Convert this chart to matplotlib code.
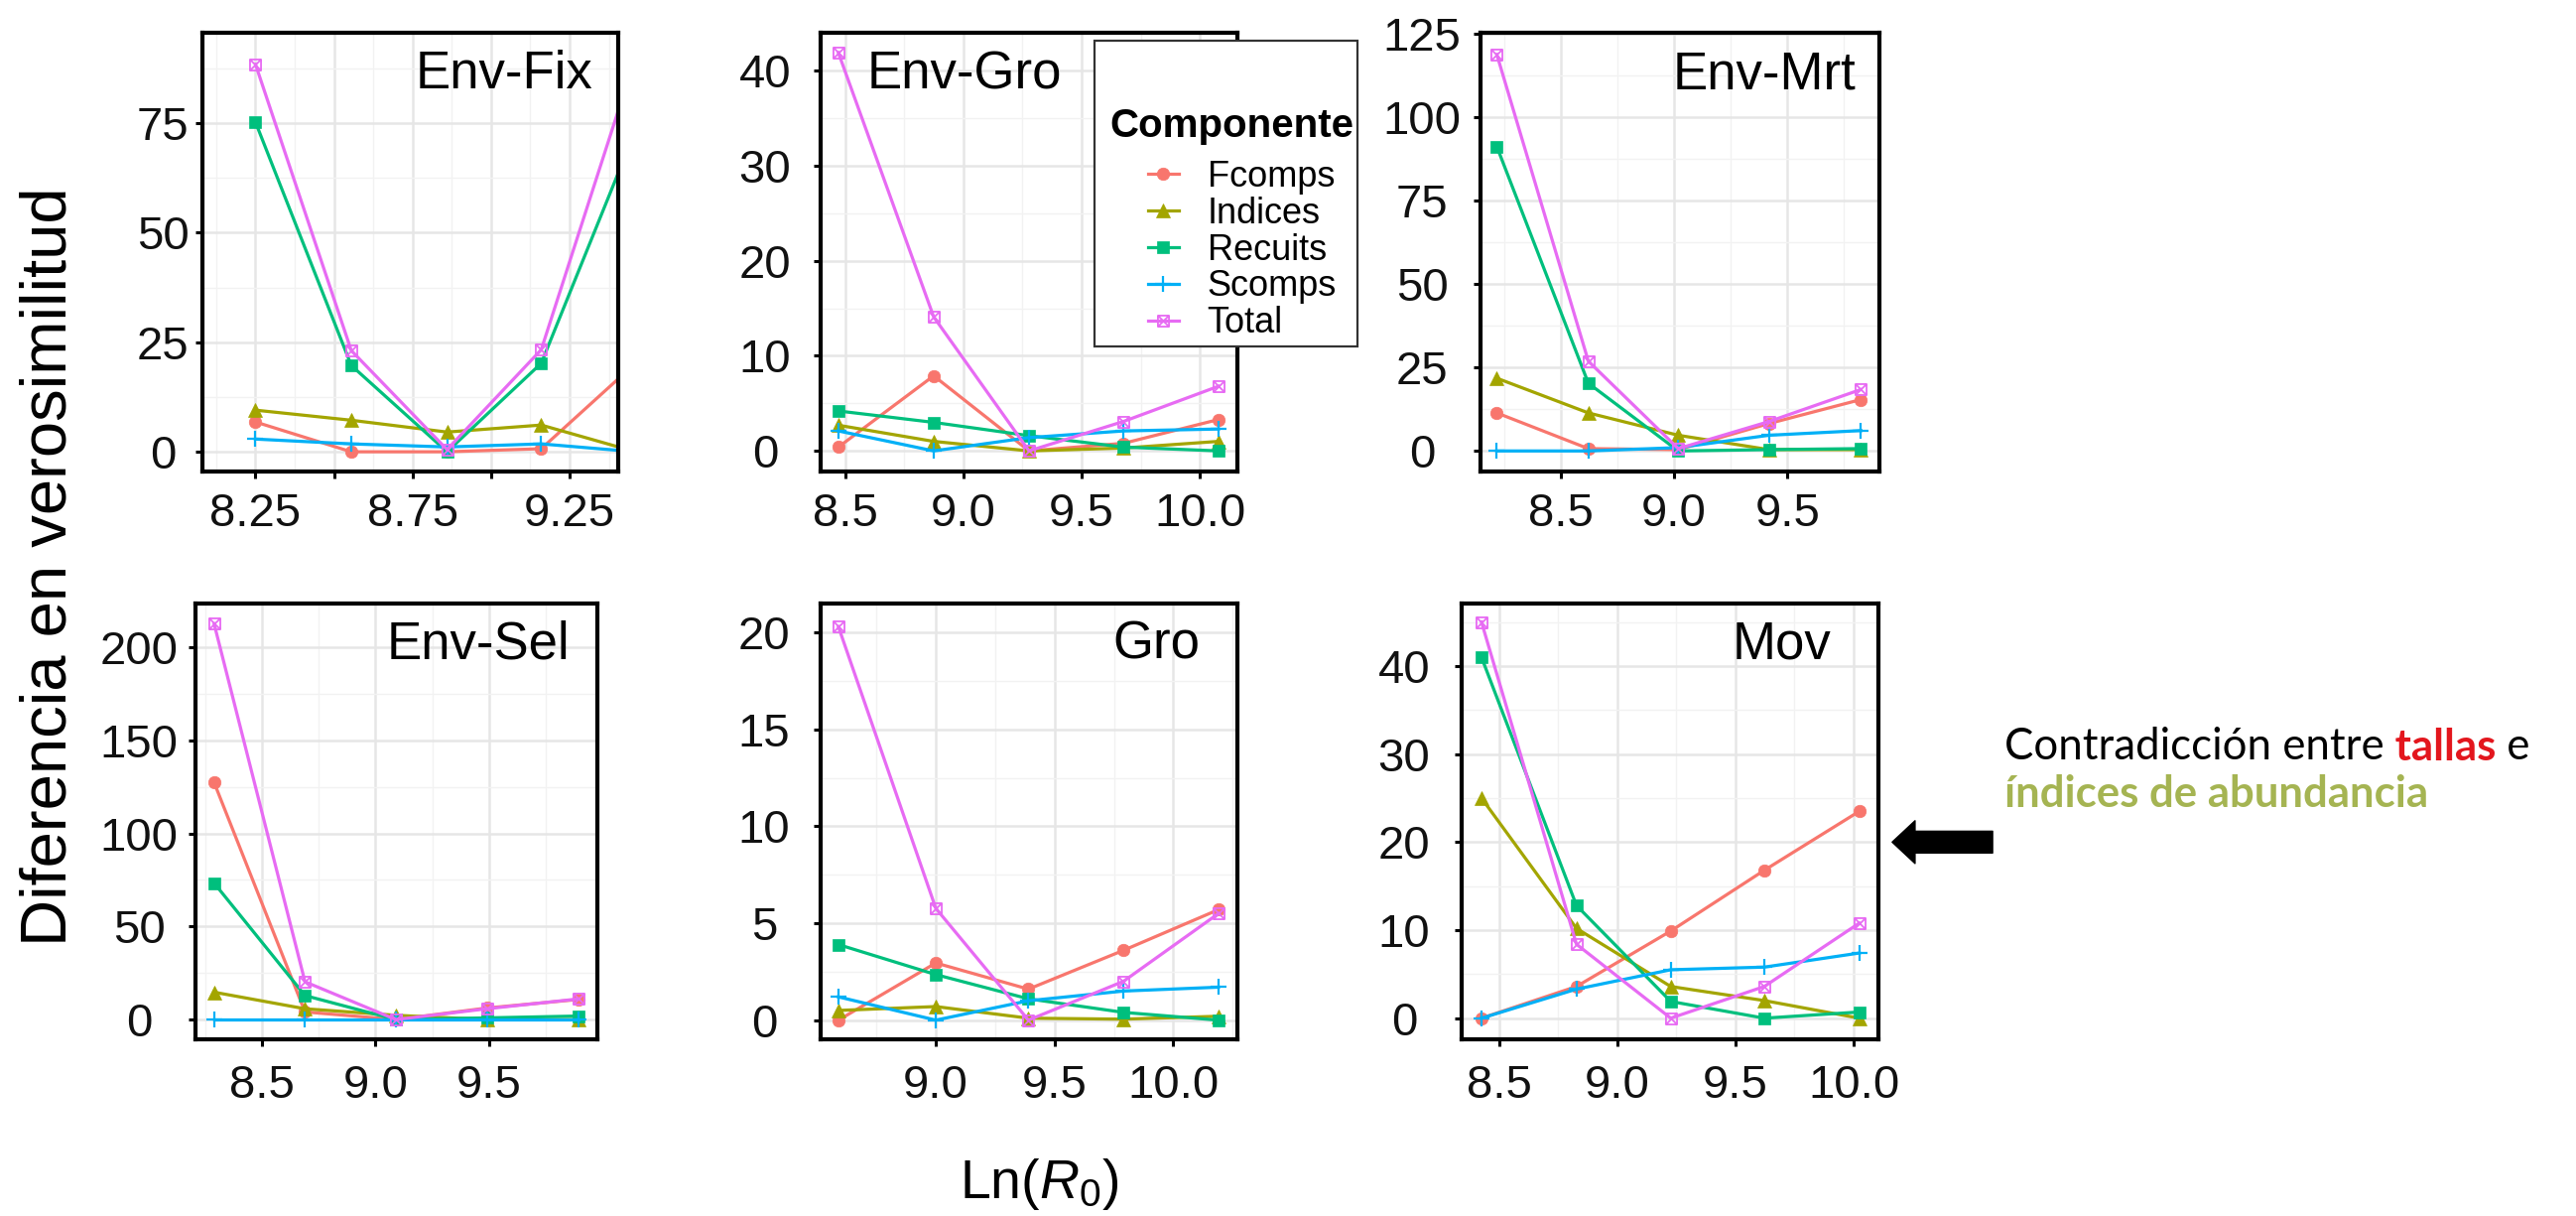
import numpy as np
import matplotlib
matplotlib.use("Agg")
import matplotlib.pyplot as plt
from matplotlib.path import Path
from matplotlib.patches import Rectangle
from matplotlib.ticker import AutoMinorLocator

# ──────────────────────────────────────────────────────────────
# DATA  (Ln(R0) grid and likelihood difference per component)
# ──────────────────────────────────────────────────────────────
COMPONENTS = ["Fcomps", "Indices", "Recuits", "Scomps", "Total"]

FIX_X = [8.25, 8.555, 8.86, 9.16, 9.46]
FIX_FCOMPS = [6.8, 0.0, 0.0, 0.7, 20.2]
FIX_INDICES = [9.5, 7.2, 4.5, 6.1, 0.0]
FIX_RECUITS = [75.2, 19.7, 0.0, 20.2, 73.3]
FIX_SCOMPS = [2.9, 1.8, 1.1, 1.8, 0.0]
FIX_TOTAL = [88.4, 23.1, 0.5, 23.3, 90.0]

EGRO_X = [8.472, 8.875, 9.278, 9.678, 10.079]
EGRO_FCOMPS = [0.4, 7.9, 0.0, 0.8, 3.3]
EGRO_INDICES = [2.7, 1.0, 0.0, 0.3, 1.0]
EGRO_RECUITS = [4.2, 3.0, 1.6, 0.4, 0.0]
EGRO_SCOMPS = [2.1, 0.0, 1.4, 2.1, 2.3]
EGRO_TOTAL = [41.9, 14.1, 0.0, 3.1, 6.8]

MRT_X = [8.217, 8.621, 9.018, 9.418, 9.824]
MRT_FCOMPS = [11.4, 0.7, 0.4, 8.2, 15.4]
MRT_INDICES = [21.8, 11.4, 4.7, 0.4, 0.4]
MRT_RECUITS = [91.2, 20.3, 0.0, 0.4, 0.7]
MRT_SCOMPS = [0.0, 0.0, 1.0, 4.7, 6.1]
MRT_TOTAL = [118.8, 26.9, 0.7, 8.8, 18.4]

SEL_X = [8.29, 8.69, 9.09, 9.49, 9.895]
SEL_FCOMPS = [127.3, 4.1, 0.0, 6.2, 10.8]
SEL_INDICES = [14.7, 5.8, 2.3, 0.0, 0.0]
SEL_RECUITS = [73.3, 12.9, 0.0, 0.9, 1.9]
SEL_SCOMPS = [0.0, 0.0, 0.0, 0.0, 0.0]
SEL_TOTAL = [212.5, 20.3, 0.0, 5.8, 11.1]

GRO_X = [8.59, 9.0, 9.39, 9.79, 10.19]
GRO_FCOMPS = [0.0, 2.95, 1.6, 3.6, 5.7]
GRO_INDICES = [0.5, 0.7, 0.1, 0.05, 0.2]
GRO_RECUITS = [3.9, 2.35, 1.1, 0.4, 0.0]
GRO_SCOMPS = [1.2, 0.0, 1.0, 1.5, 1.7]
GRO_TOTAL = [20.3, 5.77, 0.0, 2.0, 5.5]

MOV_X = [8.425, 8.827, 9.226, 9.622, 10.024]
MOV_FCOMPS = [0.0, 3.6, 9.9, 16.8, 23.5]
MOV_INDICES = [25.0, 10.2, 3.6, 2.0, 0.0]
MOV_RECUITS = [41.0, 12.8, 1.9, 0.0, 0.7]
MOV_SCOMPS = [0.0, 3.3, 5.5, 5.8, 7.4]
MOV_TOTAL = [45.0, 8.4, 0.0, 3.6, 10.8]

PANELS = [
    ("Env-Fix", FIX_X, [FIX_FCOMPS, FIX_INDICES, FIX_RECUITS, FIX_SCOMPS, FIX_TOTAL]),
    ("Env-Gro", EGRO_X, [EGRO_FCOMPS, EGRO_INDICES, EGRO_RECUITS, EGRO_SCOMPS, EGRO_TOTAL]),
    ("Env-Mrt", MRT_X, [MRT_FCOMPS, MRT_INDICES, MRT_RECUITS, MRT_SCOMPS, MRT_TOTAL]),
    ("Env-Sel", SEL_X, [SEL_FCOMPS, SEL_INDICES, SEL_RECUITS, SEL_SCOMPS, SEL_TOTAL]),
    ("Gro", GRO_X, [GRO_FCOMPS, GRO_INDICES, GRO_RECUITS, GRO_SCOMPS, GRO_TOTAL]),
    ("Mov", MOV_X, [MOV_FCOMPS, MOV_INDICES, MOV_RECUITS, MOV_SCOMPS, MOV_TOTAL]),
]

# ──────────────────────────────────────────────────────────────
# LAYOUT  (pixel boxes on the 2596x1225 canvas, axis ranges)
# ──────────────────────────────────────────────────────────────
W, H, DPI = 2596, 1225, 100
PT = DPI / 72.0

LAYOUT = {
    "Env-Fix": dict(box=(204, 33, 623, 475), xlim=(8.081, 9.405), ylim=(-4.5, 95.6),
                    xticks=[8.25, 8.5, 8.75, 9.0, 9.25], xlabels=["8.25", "", "8.75", "", "9.25"],
                    ystep=25, ylab_off=40, xpad=10, title_dx=-26),
    "Env-Gro": dict(box=(827, 33, 1247, 475), xlim=(8.397, 10.159), ylim=(-2.17, 44.0),
                    xticks=[8.5, 9.0, 9.5, 10.0], xlabels=None,
                    ystep=10, ylab_off=56, xpad=10, title_dx=47),
    "Env-Mrt": dict(box=(1492, 33, 1894, 475), xlim=(8.145, 9.906), ylim=(-6.16, 125.3),
                    xticks=[8.5, 9.0, 9.5], xlabels=None,
                    ystep=25, ylab_off=59, xpad=10, title_dx=-24),
    "Env-Sel": dict(box=(197, 608, 602, 1047), xlim=(8.208, 9.977), ylim=(-10.6, 223.4),
                    xticks=[8.5, 9.0, 9.5], xlabels=None,
                    ystep=50, ylab_off=57, xpad=13, title_dx=-28),
    "Gro": dict(box=(827, 608, 1247, 1047), xlim=(8.515, 10.27), ylim=(-0.99, 21.5),
                xticks=[9.0, 9.5, 10.0], xlabels=None,
                ystep=5, ylab_off=57, xpad=13, title_dx=-38),
    "Mov": dict(box=(1473, 608, 1893, 1047), xlim=(8.341, 10.105), ylim=(-2.4, 47.1),
                xticks=[8.5, 9.0, 9.5, 10.0], xlabels=None,
                ystep=10, ylab_off=58, xpad=13, title_dx=-48),
}

COLORS = ["#F8766D", "#A3A500", "#00BF7D", "#00B0F6", "#E76BF3"]

# ggplot shape 7: square with a cross
BOX_X = Path(
    [(-1, -1), (1, -1), (1, 1), (-1, 1), (-1, -1), (-1, -1), (1, 1), (-1, 1), (1, -1)],
    [Path.MOVETO, Path.LINETO, Path.LINETO, Path.LINETO, Path.CLOSEPOLY,
     Path.MOVETO, Path.LINETO, Path.MOVETO, Path.LINETO],
)
MARKERS = {
    "Fcomps": dict(marker="o", ms=9, mew=0.5),
    "Indices": dict(marker="^", ms=10, mew=0.5),
    "Recuits": dict(marker="s", ms=8.5, mew=0.5),
    "Scomps": dict(marker="+", ms=12, mew=1.6),
    "Total": dict(marker=BOX_X, ms=8, mew=1.3, mfc="none"),
}

plt.rcParams["font.family"] = ["Liberation Sans", "DejaVu Sans"]
plt.rcParams["mathtext.fontset"] = "custom"
plt.rcParams["mathtext.rm"] = "Liberation Sans"
plt.rcParams["mathtext.it"] = "Liberation Sans:italic"


def fig_rect(box):
    x0, y0, x1, y1 = box
    return [x0 / W, 1 - y1 / H, (x1 - x0) / W, (y1 - y0) / H]


fig = plt.figure(figsize=(W / DPI, H / DPI), dpi=DPI, facecolor="white")
axes = {}

for title, x, series in PANELS:
    L = LAYOUT[title]
    ax = fig.add_axes(fig_rect(L["box"]))
    axes[title] = ax

    for name, y, color in zip(COMPONENTS, series, COLORS):
        ax.plot(x, y, color=color, lw=2.3, label=name, mec=color, **MARKERS[name])

    ax.set_xlim(*L["xlim"])
    ax.set_ylim(*L["ylim"])

    yt = np.arange(0, L["ylim"][1] + 1e-9, L["ystep"])
    ax.set_yticks(yt, labels=[f"{v:g}" for v in yt], ha="center")
    xl = L["xlabels"] or [f"{v:.1f}" for v in L["xticks"]]
    ax.set_xticks(L["xticks"], labels=xl)
    ax.xaxis.set_minor_locator(AutoMinorLocator(2))
    ax.yaxis.set_minor_locator(AutoMinorLocator(2))

    ax.tick_params(which="major", direction="out", length=5, width=2.2,
                   color="black", labelsize=34, labelcolor="#111111")
    ax.tick_params(which="minor", length=0)
    ax.tick_params(axis="y", pad=(L["ylab_off"] - 7) / PT)
    ax.tick_params(axis="x", pad=L["xpad"])

    ax.grid(True, which="major", color="#E6E6E6", lw=1.8)
    ax.grid(True, which="minor", color="#F2F2F2", lw=1.0)
    ax.set_axisbelow(True)
    for sp in ax.spines.values():
        sp.set_linewidth(3.0)
        sp.set_color("black")

    bw = L["box"][2] - L["box"][0]
    bh = L["box"][3] - L["box"][1]
    dx = L["title_dx"]
    tx, ha = (1 + dx / bw, "right") if dx < 0 else (dx / bw, "left")
    ax.text(tx, 1 - 56 / bh, title, transform=ax.transAxes, ha=ha, va="baseline",
            fontsize=38, color="black")

# ── legend (frame drawn over the Env-Gro panel) ──
fig.patches.append(Rectangle((1103 / W, 1 - 349 / H), 265 / W, 308 / H,
                             transform=fig.transFigure, facecolor="white",
                             edgecolor="#333333", lw=1.6, zorder=1))
fig.text(1118 / W, 1 - 138 / H, "Componente", fontsize=29, fontweight="bold",
         va="baseline", zorder=6)
handles, labels = axes["Env-Gro"].get_legend_handles_labels()
fig.legend(handles, labels, loc="upper left", bbox_to_anchor=(1157 / W, 1 - 161 / H),
           frameon=False, fontsize=26, handlelength=0.85, handletextpad=0.8,
           labelspacing=0.05, borderpad=0, borderaxespad=0, numpoints=1)

# ── shared axis labels ──
fig.text(50 / W, 1 - 571 / H, "Diferencia en verosimilitud", rotation=90,
         ha="center", va="center", fontsize=47)
fig.text(1047 / W, 1 - 1207 / H, "Ln($R_0$)", ha="center", va="baseline", fontsize=40)

# ── arrow and note on the Mov panel ──
ax_mov = axes["Mov"]
ax_mov.annotate("", xy=(1.033, 20), xytext=(1.274, 20),
                xycoords=("axes fraction", "data"), textcoords=("axes fraction", "data"),
                arrowprops=dict(arrowstyle="simple,head_length=1.66,head_width=3.1,tail_width=1.58",
                                mutation_scale=10, color="black", shrinkA=0, shrinkB=0),
                annotation_clip=False)

note_font = dict(family=["Lato", "DejaVu Sans"], fontsize=31.5)
t1 = fig.text(2020 / W, 1 - 765 / H, "Contradicción entre", va="baseline",
              color="black", **note_font)
t2 = ax_mov.annotate(" tallas", xy=(1, 0), xycoords=t1, va="bottom",
                     color="#E3161D", fontweight="bold", annotation_clip=False, **note_font)
ax_mov.annotate(" e", xy=(1, 0), xycoords=t2, va="bottom", color="black",
                annotation_clip=False, **note_font)
fig.text(2020 / W, 1 - 813 / H, "índices de abundancia", va="baseline",
         color="#A5B452", fontweight="bold", **note_font)

fig.savefig("out.png", dpi=DPI, facecolor="white")
